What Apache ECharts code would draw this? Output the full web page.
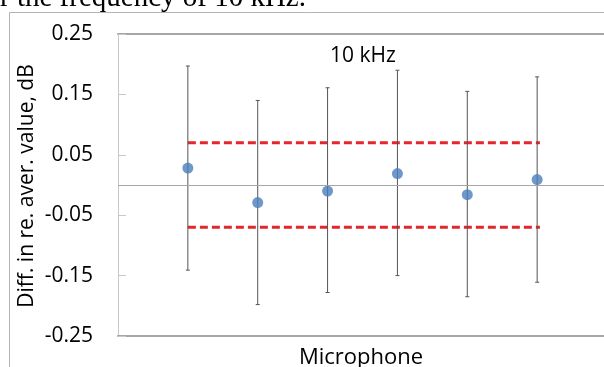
<!DOCTYPE html>
<html>
<head>
<meta charset="utf-8">
<script src="https://cdn.jsdelivr.net/npm/echarts@6/dist/echarts.min.js"></script>
<style>
html,body{margin:0;padding:0;background:#fff;}
#chart{width:604px;height:367px;}
</style>
</head>
<body>
<div id="chart"></div>
<script>
// ---- data ----
var microphones = [1, 2, 3, 4, 5, 6];
var meanDiff   = [0.028, -0.029, -0.010, 0.019, -0.016, 0.009];
var upperBound = [0.197, 0.140, 0.161, 0.190, 0.155, 0.179];
var lowerBound = [-0.141, -0.198, -0.178, -0.150, -0.185, -0.161];
var toleranceLimits = [0.07, -0.07];
var toleranceSpan = [1, 6.04];
var yTickLabels = ['-0.25', '-0.15', '-0.05', '0.05', '0.15', '0.25'];
var yTickValues = [-0.25, -0.15, -0.05, 0.05, 0.15, 0.25];
var yTitle = 'Diff. in re. aver. value, dB';
var xTitle = 'Microphone';
var panelLabel = '10 kHz';
var captionFragment = 'r the frequency of 10 kHz.';

var chart = echarts.init(document.getElementById('chart'), null, {renderer: 'canvas'});

var errData = microphones.map(function (x, i) { return [x, lowerBound[i], upperBound[i]]; });
var ptData = microphones.map(function (x, i) { return [x, meanDiff[i]]; });

var tolSeries = toleranceLimits.map(function (v) {
  return {
    type: 'line',
    data: [[toleranceSpan[0], v], [toleranceSpan[1], v]],
    symbol: 'none',
    silent: true,
    z: 1,
    lineStyle: {color: '#e3262b', width: 3, type: [8, 4], cap: 'butt'}
  };
});

var font = 'Open Sans';

var option = {
  animation: false,
  backgroundColor: '#fff',
  grid: {left: 118, top: 34, bottom: 31, right: -3, containLabel: false, outerBoundsMode: 'none'},
  xAxis: [
    {type: 'value', min: 0, max: 7, position: 'bottom',
     axisLine: {show: true, onZero: false, lineStyle: {color: '#a6a6a6', width: 2}},
     axisTick: {show: false}, axisLabel: {show: false}, splitLine: {show: false}},
    {type: 'value', min: 0, max: 7, position: 'top',
     axisLine: {show: true, onZero: false, lineStyle: {color: '#a6a6a6', width: 2}},
     axisTick: {show: false}, axisLabel: {show: false}, splitLine: {show: false}}
  ],
  yAxis: {
    type: 'value', min: -0.25, max: 0.25, interval: 0.1,
    axisLine: {show: true, onZero: false, lineStyle: {color: '#c8c8c8', width: 1}},
    axisTick: {show: true, inside: true, length: 8, lineStyle: {color: '#c8c8c8'}},
    axisLabel: {
      show: true, margin: 25, color: '#000', fontFamily: font, fontSize: 21,
      formatter: function (v) {
        for (var i = 0; i < yTickValues.length; i++) {
          if (Math.abs(v - yTickValues[i]) < 1e-6) return yTickLabels[i];
        }
        return '';
      }
    },
    splitLine: {show: false}
  },
  series: [
    {
      type: 'custom',
      z: 2,
      silent: true,
      data: errData,
      encode: {x: 0, y: [1, 2]},
      renderItem: function (params, api) {
        var x = api.value(0);
        var pLo = api.coord([x, api.value(1)]);
        var pHi = api.coord([x, api.value(2)]);
        var cap = 2;
        var st = {stroke: '#555', lineWidth: 1};
        return {
          type: 'group',
          children: [
            {type: 'line', shape: {x1: pLo[0], y1: pLo[1], x2: pHi[0], y2: pHi[1]}, style: st},
            {type: 'line', shape: {x1: pLo[0] - cap, y1: pLo[1], x2: pLo[0] + cap, y2: pLo[1]}, style: st},
            {type: 'line', shape: {x1: pHi[0] - cap, y1: pHi[1], x2: pHi[0] + cap, y2: pHi[1]}, style: st}
          ]
        };
      }
    },
    {
      type: 'scatter',
      z: 3,
      data: ptData,
      symbol: 'circle',
      symbolSize: 11,
      itemStyle: {color: '#4a7ebb'},
      markLine: {
        silent: true,
        symbol: 'none',
        label: {show: false},
        lineStyle: {color: '#a6a6a6', width: 1, type: 'solid'},
        data: [{yAxis: 0}]
      }
    }
  ].concat(tolSeries),
  graphic: [
    {type: 'polyline', silent: true, shape: {points: [[9.5, 367], [9.5, 12.5], [604, 12.5]]},
     style: {stroke: '#b4b4b4', lineWidth: 1, fill: null}},
    {type: 'text', silent: true, x: 0, y: -2,
     style: {text: captionFragment, font: '29px "Liberation Serif"', fill: '#000', align: 'left', verticalAlign: 'middle'}},
    {type: 'text', silent: true, x: 363, y: 56,
     style: {text: panelLabel, font: '21px "Open Sans"', fill: '#000', align: 'center', verticalAlign: 'middle'}},
    {type: 'text', silent: true, x: 361, y: 358,
     style: {text: xTitle, font: '22px "Open Sans"', fill: '#000', align: 'center', verticalAlign: 'middle'}},
    {type: 'text', silent: true, x: 27, y: 186, rotation: Math.PI / 2,
     style: {text: yTitle, font: '21px "Open Sans"', fill: '#000', align: 'center', verticalAlign: 'middle'}}
  ]
};
chart.setOption(option);
</script>
</body>
</html>
